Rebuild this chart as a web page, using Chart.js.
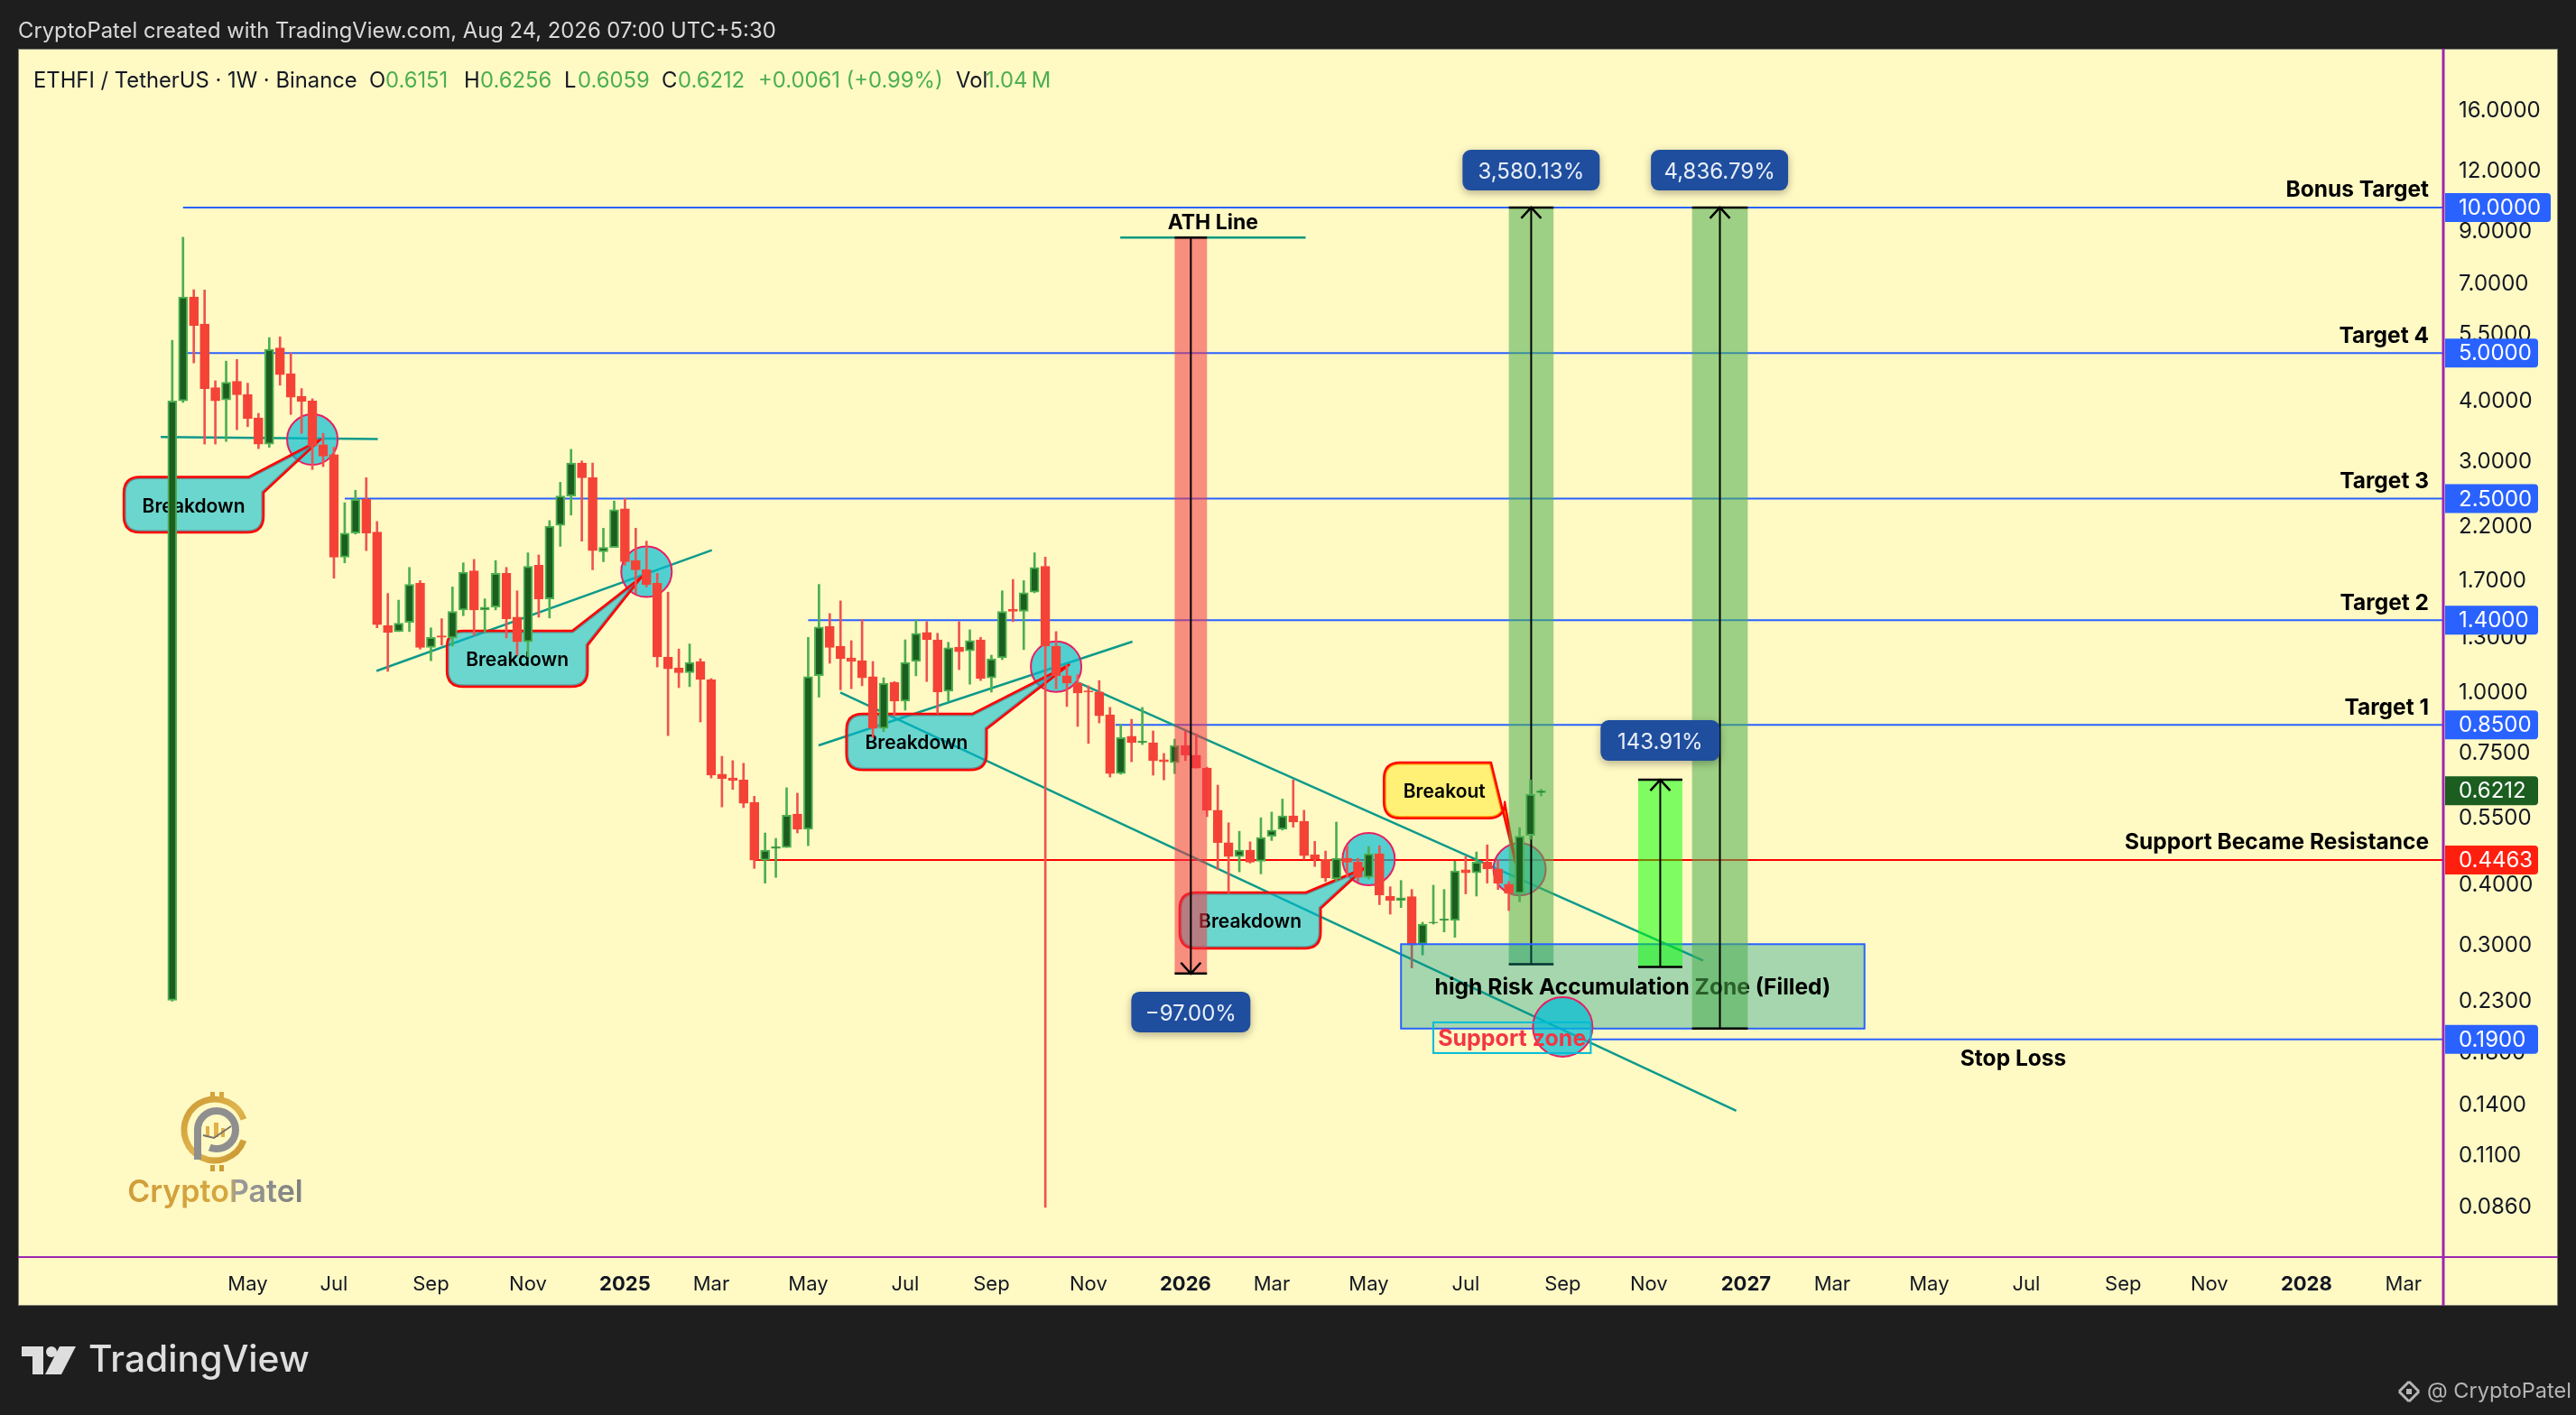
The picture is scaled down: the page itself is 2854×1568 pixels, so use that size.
<!DOCTYPE html>
<html><head><meta charset="utf-8">
<style>html,body{margin:0;padding:0;background:#1e1e1e;overflow:hidden}canvas{display:block}</style>
<script src="https://cdn.jsdelivr.net/npm/chart.js@4"></script>
</head><body><canvas id="c" width="2854" height="1568" style="width:2854px;height:1568px"></canvas>
<script>
const opens=[.229,3.98,6.53,5.74,4.24,4.00,4.37,4.10,3.67,3.24,5.12,4.53,4.07,3.98,3.23,3.08,1.89,2.12,2.49,2.13,1.365,1.326,1.385,1.67,1.23,1.30,1.286,1.47,1.77,1.47,1.49,1.75,1.42,1.263,1.82,1.55,2.20,2.53,2.96,2.76,1.94,1.98,2.38,1.86,1.78,1.67,1.175,1.116,1.09,1.15,1.055,.672,.66,.654,.587,.446,.472,.474,.556,.517,1.075,1.36,1.237,1.17,1.154,1.07,.836,1.04,.952,1.15,1.32,1.275,.998,1.23,1.21,1.275,1.064,1.17,1.475,1.46,1.60,1.81,1.237,1.074,1.037,1.00,.994,.892,.674,.805,.781,.781,.72,.71,.771,.736,.692,.566,.485,.454,.468,.444,.50,.517,.551,.537,.458,.448,.408,.45,.442,.411,.46,.376,.368,.375,.299,.331,.335,.335,.426,.42,.442,.428,.398,.381,.502,.6151];
const highs=[5.31,8.68,6.76,6.75,4.38,4.81,4.85,4.33,3.75,5.38,5.40,5.00,4.22,4.02,3.41,3.19,2.45,2.60,2.76,2.24,1.59,1.54,1.80,1.69,1.35,1.41,1.64,1.84,1.87,1.55,1.86,1.80,1.61,1.93,1.91,2.25,2.70,3.16,2.99,2.96,2.17,2.47,2.50,2.17,2.04,1.75,1.60,1.22,1.25,1.165,1.06,.732,.717,.708,.605,.508,.495,.63,.614,1.29,1.66,1.445,1.535,1.27,1.405,1.15,1.064,1.045,1.275,1.40,1.39,1.315,1.26,1.39,1.337,1.29,1.185,1.61,1.70,1.69,1.93,1.89,1.326,1.13,1.08,1.024,1.05,.924,.851,.873,.924,.826,.742,.794,.826,.815,.695,.638,.533,.512,.487,.546,.561,.597,.654,.566,.488,.466,.535,.478,.45,.476,.478,.393,.405,.388,.332,.396,.388,.444,.454,.464,.48,.446,.403,.521,.654,.6256];
const lows=[.228,3.95,4.77,3.24,3.24,3.28,3.47,3.52,3.17,3.19,4.29,3.73,3.41,2.87,2.91,1.71,1.84,2.11,1.95,1.35,1.097,1.326,1.326,1.22,1.154,1.243,1.237,1.43,1.30,1.32,1.47,1.286,1.185,1.175,1.42,1.415,1.99,2.31,2.04,1.78,1.85,1.98,1.82,1.59,1.64,1.12,.808,1.015,1.02,.862,.66,.575,.625,.573,.429,.40,.411,.474,.508,.478,.97,1.14,1.005,1.01,1.024,.80,.823,.888,.912,1.074,1.045,.896,.952,1.106,1.032,1.05,.994,1.16,1.39,1.217,1.595,.0853,1.01,.928,.844,.778,.858,.663,.672,.713,.774,.669,.654,.674,.717,.692,.549,.427,.381,.422,.44,.418,.49,.515,.522,.448,.433,.403,.403,.411,.403,.408,.361,.345,.356,.267,.284,.329,.317,.309,.38,.376,.40,.388,.351,.366,.493,.6059];
const closes=[3.98,6.53,5.70,4.22,3.98,4.35,4.10,3.66,3.24,5.09,4.51,4.05,3.97,3.21,3.06,1.89,2.12,2.49,2.12,1.37,1.32,1.38,1.66,1.23,1.29,1.29,1.46,1.76,1.47,1.49,1.75,1.41,1.263,1.81,1.55,2.19,2.53,2.96,2.76,1.95,1.98,2.37,1.85,1.78,1.66,1.175,1.11,1.09,1.145,1.055,.669,.658,.652,.585,.446,.468,.476,.553,.517,1.07,1.355,1.23,1.165,1.15,1.064,.836,1.037,.952,1.145,1.315,1.275,.994,1.227,1.205,1.27,1.06,1.165,1.46,1.46,1.595,1.80,1.237,1.074,1.037,.99,.994,.888,.674,.80,.781,.787,.717,.713,.771,.736,.692,.566,.485,.454,.468,.442,.497,.515,.551,.535,.456,.448,.41,.45,.442,.411,.46,.378,.368,.373,.298,.329,.332,.337,.424,.42,.442,.428,.40,.381,.50,.611,.6212];
const xTickValues=[7,15,24,33,42,50,59,68,76,85,94,102,111,120,129,137,146,154,163,172,181,189,198,207];
const xTickLabels=["May","Jul","Sep","Nov","2025","Mar","May","Jul","Sep","Nov","2026","Mar","May","Jul","Sep","Nov","2027","Mar","May","Jul","Sep","Nov","2028","Mar"];
const yTickValues=[16,12,9,7,5.5,4,3,2.2,1.7,1.3,1,.75,.55,.4,.3,.23,.18,.14,.11,.086];
const levels=[[10,1,"Bonus Target"],[5,1,"Target 4"],[2.5,16,"Target 3"],[1.4,59,"Target 2"],[.85,87.5,"Target 1"],[.4463,54,"Support Became Resistance"],[.19,131.4,""]];
const priceTags=[[10,"10.0000","#2962ff"],[5,"5.0000","#2962ff"],[2.5,"2.5000","#2962ff"],[1.4,"1.4000","#2962ff"],[.85,"0.8500","#2962ff"],[.6212,"0.6212","#1b5e20"],[.4463,"0.4463","#ff1f0f"],[.19,"0.1900","#2962ff"]];
const trendLines=[[-1.07,3.35,19.07,3.32],[18.95,1.099,50.07,1.955],[59.96,.771,89.08,1.264],[84.1,1.039,142.03,.2765],[61.98,.992,145.1,.1352]];
const circles=[[13,3.31,28],[44,1.763,28],[82,1.122,28],[111,.4484,29],[125,.4272,29]];
const supportCircle=[129,.2016,33];
// left, right, top, bottom, tail start, tip x, tip y, tail end (index / price)
const callouts=[[-4.5,8.47,2.77,2.127,7.09,13.75,3.31,2.57,"Breakdown"],[25.48,38.54,1.331,1.02,37.12,43.57,1.723,1.243,"Breakdown"],[62.54,75.56,.896,.686,74.22,83.2,1.132,.834,"Breakdown"],[93.46,106.55,.3825,.293,105.18,110.63,.43,.3545,"Breakdown"]];
const breakout=[112.41,123.63,.7105,.545,122.35,124.64,.4395,.5855,"Breakout"];
const athLine=[87.95,105.15,8.67,"ATH Line"];
const dropBox=[93,96,8.67,.26];
const gainBox1=[124,128.15,.2718,10];
const gainBox2=[136,140.1,.2684,.6544];
const gainBox3=[141,146.17,.2,10];
const accumBox=[114,157,.299,.2,"high Risk Accumulation Zone (Filled)"];
const supportBox=[117,131.6,.206,.178,"Support zone"];
const pctLabels=[[94.5,.2164,"\u221297.00%",132],[126.07,11.95,"3,580.13%",152],[143.55,11.95,"4,836.79%",152],[138.04,.789,"143.91%",132]];
const stopLoss=[170.8,"Stop Loss"];
const headerText="CryptoPatel created with TradingView.com, Aug 24, 2026 07:00 UTC+5:30";
const legendParts=[["ETHFI / TetherUS \u00b7 1W \u00b7 Binance","#131722",37],["O","#131722",409],["0.6151","#4caf50",427],["H","#131722",514],["0.6256","#4caf50",532],["L","#131722",625],["0.6059","#4caf50",640],["C","#131722",733],["0.6212","#4caf50",751],["+0.0061 (+0.99%)","#4caf50",840],["Vol","#131722",1059],["1.04\u2009M","#4caf50",1092]];

const BG="#fff9c4",F="Inter, 'Noto Sans', sans-serif";
const idx=opens.map((_,i)=>i);
const isUp=idx.map(i=>closes[i]>=opens[i]);
const wickData=idx.map(i=>({x:i,y:[lows[i],highs[i]]}));
const bodyData=idx.map(i=>({x:i,y:[Math.min(opens[i],closes[i]),Math.max(opens[i],closes[i])]}));

function rr(c,x,y,w,h,r){c.beginPath();c.roundRect(x,y,w,h,r);}
function text(c,s,x,y,font,color,align){c.font=font;c.fillStyle=color;c.textAlign=align||"left";c.textBaseline="middle";c.fillText(s,x,y+2);}
function X(ch,i){return ch.scales.x.getPixelForValue(i);}
function Y(ch,p){return ch.scales.y.getPixelForValue(p);}
function rectOf(ch,b){return [X(ch,b[0]),Y(ch,b[2]),X(ch,b[1]),Y(ch,b[3])];}

function drawCallout(ch,cl,fill,edge,inner){
  const c=ch.ctx,l=X(ch,cl[0]),r=X(ch,cl[1]),t=Y(ch,cl[2]),b=Y(ch,cl[3]),ax=X(ch,cl[4]),tx=X(ch,cl[5]),ty=Y(ch,cl[6]),by=Y(ch,cl[7]),R=18;
  const path=new Path2D();
  path.moveTo(l+R,t);path.lineTo(ax,t);path.lineTo(tx,ty);path.lineTo(r,by);path.lineTo(r,b-R);
  path.quadraticCurveTo(r,b,r-R,b);path.lineTo(l+R,b);path.quadraticCurveTo(l,b,l,b-R);path.lineTo(l,t+R);path.quadraticCurveTo(l,t,l+R,t);path.closePath();
  c.save();c.fillStyle=fill;c.fill(path);
  c.save();c.clip(path);c.strokeStyle=inner;c.lineWidth=5;c.stroke(path);c.restore();
  c.strokeStyle=edge;c.lineWidth=2.5;c.lineJoin="round";c.stroke(path);
  text(c,cl[8],(l+r)/2,(t+b)/2,"600 21px "+F,"#000","center");
  c.restore();
}
function drawCircle(ch,ci,alpha){
  const c=ch.ctx;c.save();c.beginPath();c.arc(X(ch,ci[0]),Y(ch,ci[1]),ci[2],0,Math.PI*2);
  c.fillStyle="rgba(0,188,212,"+alpha+")";c.fill();c.strokeStyle="#e91e63";c.lineWidth=2;c.stroke();c.restore();
}
function drawMeasure(ch,b,fill,up){
  const c=ch.ctx,l=X(ch,b[0]),r=X(ch,b[1]),t=Y(ch,up?b[3]:b[2]),bt=Y(ch,up?b[2]:b[3]),m=(l+r)/2;
  c.save();c.fillStyle=fill;c.fillRect(l,t,r-l,bt-t);
  c.strokeStyle="#000";c.lineWidth=2;
  c.beginPath();c.moveTo(m,t);c.lineTo(m,bt);c.stroke();
  c.lineWidth=2.5;c.beginPath();
  c.moveTo(l,bt);c.lineTo(r,bt);c.moveTo(l,t);c.lineTo(r,t);
  if(up){c.moveTo(m-11,t+12);c.lineTo(m,t);c.lineTo(m+11,t+12);}
  else{c.moveTo(m-11,bt-12);c.lineTo(m,bt);c.lineTo(m+11,bt-12);}
  c.stroke();c.restore();
}
function drawLogo(c){
  c.save();
  const g=c.createLinearGradient(200,1210,280,1295);g.addColorStop(0,"#c9962f");g.addColorStop(.5,"#e0b44e");g.addColorStop(1,"#c08a22");
  c.strokeStyle=g;c.lineWidth=7;c.beginPath();c.arc(238,1252,34,-.35,.35,true);c.stroke();
  c.fillStyle=g;[[233,1210],[243,1210],[233,1291],[243,1291]].forEach(p=>c.fillRect(p[0],p[1],5,7));
  c.strokeStyle="#8f8f8f";c.lineWidth=8;c.beginPath();c.arc(240,1252,21,Math.PI,Math.PI*.62);c.stroke();
  c.beginPath();c.moveTo(219,1252);c.lineTo(219,1285);c.stroke();
  c.fillStyle=g;[[228,1248,4,12],[237,1244,5,16],[245,1250,4,10]].forEach(p=>c.fillRect(p[0],p[1],p[2],p[3]));
  c.strokeStyle="#77716a";c.lineWidth=2;c.beginPath();c.moveTo(225,1258);c.lineTo(237,1261);c.lineTo(256,1248);c.stroke();
  const t=c.createLinearGradient(142,0,335,0);t.addColorStop(0,"#cf9d3a");t.addColorStop(.58,"#d6a741");t.addColorStop(.62,"#9b9b9b");t.addColorStop(1,"#7f7f7f");
  text(c,"CryptoPatel",238.5,1320,"600 34px "+F,t,"center");
  c.restore();
}
function drawFooter(c){
  c.save();c.fillStyle="#dedede";
  c.beginPath();c.moveTo(24,1492);c.lineTo(48,1492);c.lineTo(48,1523);c.lineTo(36,1523);c.lineTo(36,1503);c.lineTo(24,1503);c.closePath();c.fill();
  c.beginPath();c.arc(57,1498,6,0,Math.PI*2);c.fill();
  c.beginPath();c.moveTo(66,1492);c.lineTo(84,1492);c.lineTo(68,1523);c.lineTo(50,1523);c.closePath();c.fill();
  text(c,"TradingView",98,1506,"500 40.8px "+F,"#dedede");
  c.strokeStyle="#b5b5b5";c.lineWidth=3;
  [[2669,1531,2680,1542],[2669,1553,2680,1542],[2669,1531,2658,1542],[2669,1553,2658,1542]].forEach(s=>{c.beginPath();c.moveTo(s[0],s[1]);c.lineTo(s[2],s[3]);c.stroke();});
  c.fillStyle="#b5b5b5";c.fillRect(2666,1539,6,6);
  text(c,"@ CryptoPatel",2689,1540,"400 23.5px "+F,"#b5b5b5");
  c.restore();
}

const tvPlugin={id:"tv",
  beforeDraw(ch){
    const c=ch.ctx;c.save();
    c.fillStyle="#1e1e1e";c.fillRect(0,0,2854,1568);
    c.fillStyle=BG;c.fillRect(20,54,2814,1393);
    c.strokeStyle="#7d7d70";c.lineWidth=1;c.strokeRect(20.5,54.5,2813,1392);
    text(c,headerText,20,33,"400 23.8px "+F,"#d9d9d9");
    c.restore();
    drawFooter(c);
    legendParts.forEach(p=>text(c,p[0],p[2],88,"400 23.8px "+F,p[1]));
    drawLogo(c);
  },
  beforeDatasetsDraw(ch){
    const c=ch.ctx,ar=ch.chartArea;c.save();
    levels.forEach(l=>{
      const y=Y(ch,l[0]);
      c.strokeStyle=l[0]===.4463?"#ff0000":"#2962ff";c.lineWidth=2;
      c.beginPath();c.moveTo(X(ch,l[1]),y);c.lineTo(ar.right,y);c.stroke();
      if(l[2])text(c,l[2],ar.right-16,y-21,"700 24.5px "+F,"#000","right");
    });
    c.strokeStyle="#0d9a8a";c.lineWidth=2.5;
    trendLines.forEach(t=>{c.beginPath();c.moveTo(X(ch,t[0]),Y(ch,t[1]));c.lineTo(X(ch,t[2]),Y(ch,t[3]));c.stroke();});
    c.restore();
    circles.forEach(ci=>drawCircle(ch,ci,.68));
    callouts.forEach(cl=>drawCallout(ch,cl,"rgba(0,188,212,.58)","#ff0000","rgba(100,110,120,.7)"));
    drawCallout(ch,breakout,"#fff176","#ff0000","#ff9800");
    drawMeasure(ch,gainBox1,"rgba(76,175,80,.55)",true);
  },
  afterDatasetsDraw(ch){
    const c=ch.ctx,ar=ch.chartArea;c.save();
    const ay=Y(ch,athLine[2]);
    c.strokeStyle="#089981";c.lineWidth=2.5;c.beginPath();c.moveTo(X(ch,athLine[0]),ay);c.lineTo(X(ch,athLine[1]),ay);c.stroke();
    text(c,athLine[3],(X(ch,athLine[0])+X(ch,athLine[1]))/2,ay-18,"700 23px "+F,"#000","center");
    let r=rectOf(ch,accumBox);
    c.fillStyle="rgba(0,150,136,.35)";c.fillRect(r[0],r[1],r[2]-r[0],r[3]-r[1]);
    c.strokeStyle="#2962ff";c.lineWidth=2;c.strokeRect(r[0],r[1],r[2]-r[0],r[3]-r[1]);
    text(c,accumBox[4],(r[0]+r[2])/2,(r[1]+r[3])/2,"700 24.6px "+F,"#000","center");
    drawCircle(ch,supportCircle,.72);
    r=rectOf(ch,supportBox);
    c.strokeStyle="#00bcd4";c.lineWidth=2;c.strokeRect(r[0],r[1],r[2]-r[0],r[3]-r[1]);
    text(c,supportBox[4],(r[0]+r[2])/2,(r[1]+r[3])/2,"700 25px "+F,"#f23645","center");
    c.restore();
    drawMeasure(ch,dropBox,"rgba(242,54,69,.55)",false);
    drawMeasure(ch,gainBox2,"rgba(0,255,0,.5)",true);
    drawMeasure(ch,gainBox3,"rgba(76,175,80,.55)",true);
    c.save();
    pctLabels.forEach(p=>{
      const x=X(ch,p[0]),y=Y(ch,p[1]),w=p[3],h=45;
      c.save();c.shadowColor="rgba(0,0,0,.3)";c.shadowBlur=10;c.shadowOffsetY=3;c.fillStyle="#1f4e9e";rr(c,x-w/2,y-h/2,w,h,9);c.fill();c.restore();
      text(c,p[2],x,y,"400 24px "+F,"#e9eff9","center");
    });
    text(c,stopLoss[1],X(ch,stopLoss[0]),Y(ch,.19)+20,"700 24.5px "+F,"#000","center");
    c.strokeStyle="#9c27b0";c.lineWidth=2;c.beginPath();c.moveTo(20,ar.bottom);c.lineTo(2834,ar.bottom);c.stroke();
    c.lineWidth=3;c.beginPath();c.moveTo(ar.right,54);c.lineTo(ar.right,1447);c.stroke();
    priceTags.forEach(t=>{
      const y=Y(ch,t[0]),w=t[1].length>6?117:103,h=32;
      c.fillStyle=t[2];rr(c,ar.right+2,y-h/2,w,h,[0,4,4,0]);c.fill();
      text(c,t[1],ar.right+17,y-1,"400 24px "+F,"#fff");
    });
    c.restore();
  }
};

new Chart(document.getElementById("c"),{
  type:"bar",
  data:{datasets:[
    {label:"High-Low",data:wickData,grouped:false,barThickness:2,order:2,backgroundColor:isUp.map(u=>u?"#4caf50":"#ef5350")},
    {label:"Open-Close",data:bodyData,grouped:false,barThickness:10,order:1,borderSkipped:false,borderWidth:2,
     backgroundColor:isUp.map(u=>u?"#1b5e20":"#f44336"),borderColor:isUp.map(u=>u?"#4caf50":"#f44336")}
  ]},
  options:{
    responsive:false,animation:false,devicePixelRatio:1,
    layout:{padding:{left:20,top:54,right:20,bottom:121}},
    plugins:{legend:{display:false},title:{display:false},tooltip:{enabled:false}},
    scales:{
      x:{type:"linear",offset:false,min:-14.305,max:210.7,
        grid:{display:false},border:{display:false},
        afterFit(s){s.height=54;},
        afterBuildTicks(s){s.ticks=xTickValues.map(v=>({value:v}));},
        ticks:{autoSkip:false,maxRotation:0,padding:9,color:"#131722",
          callback:v=>xTickLabels[xTickValues.indexOf(v)]||"",
          font:ctx=>{const l=xTickLabels[ctx.index]||"";return {family:F,size:22,weight:/^\d/.test(l)?"700":"400"};}}
      },
      y:{type:"logarithmic",position:"right",min:.06733,max:21.31,
        grid:{display:false},border:{display:false},
        afterFit(s){s.width=127;},
        afterBuildTicks(s){s.ticks=yTickValues.map(v=>({value:v}));},
        ticks:{autoSkip:false,padding:9,labelOffset:2,color:"#131722",callback:v=>Number(v).toFixed(4),font:{family:F,size:24}}
      }
    }
  },
  plugins:[tvPlugin]
});
</script></body></html>
